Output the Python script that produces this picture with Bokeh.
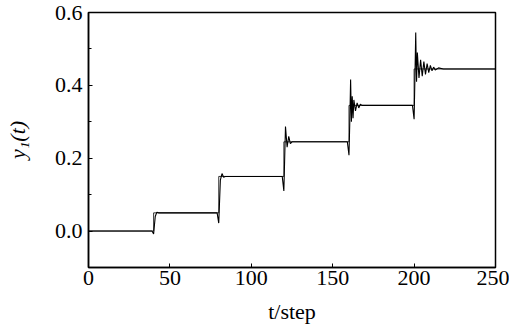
from bokeh.plotting import figure
from bokeh.embed import file_html
from bokeh.resources import INLINE
from bokeh.models import FixedTicker, CustomJSTickFormatter

# setpoint (step reference)
ref_t = [0, 40, 40, 80, 80, 120, 120, 160, 160, 200, 200, 250]
ref_y = [0.0, 0.0, 0.05, 0.05, 0.15, 0.15, 0.245, 0.245, 0.345, 0.345, 0.445, 0.445]

# output y1(t)
out_t = [0, 39, 40, 41, 42, 43, 79, 80, 81, 82, 83, 84, 119, 120, 121, 122, 123, 124, 125,
         159, 160, 160.5, 161, 161.5, 162, 162.5, 163, 164, 165, 166, 167, 168,
         199, 200, 200.5, 201, 201.5, 202, 203, 204, 205, 206, 207, 208, 209, 210, 211, 212, 213, 215, 218, 250]
out_y = [0.0, 0.0, -0.008, 0.04, 0.052, 0.05, 0.05, 0.022, 0.14, 0.158, 0.148, 0.15, 0.15, 0.11, 0.287, 0.23, 0.26, 0.24, 0.245,
         0.245, 0.208, 0.30, 0.416, 0.30, 0.37, 0.31, 0.36, 0.33, 0.352, 0.338, 0.348, 0.345,
         0.345, 0.307, 0.42, 0.545, 0.41, 0.49, 0.42, 0.47, 0.425, 0.465, 0.43, 0.46, 0.435, 0.455, 0.44, 0.45, 0.442, 0.448, 0.445, 0.445]

x_ticks = [0, 50, 100, 150, 200, 250]
y_ticks = [0.0, 0.2, 0.4, 0.6]
y_minor = [-0.1, 0.1, 0.3, 0.5]

FONT = "Liberation Serif"

p = figure(width=509, height=327, x_range=(0, 250), y_range=(-0.1, 0.6),
           output_backend="svg", toolbar_location=None,
           min_border_left=88, min_border_right=14, min_border_top=12, min_border_bottom=60)

p.line(ref_t, ref_y, line_color="black", line_width=0.8)
p.line(out_t, out_y, line_color="black", line_width=1.1)

p.grid.visible = False
p.outline_line_color = "black"
p.outline_line_width = 1.5
p.background_fill_color = "white"
p.border_fill_color = "white"

p.xaxis.ticker = FixedTicker(ticks=x_ticks)
p.yaxis.ticker = FixedTicker(ticks=y_ticks, minor_ticks=y_minor)
p.yaxis.formatter = CustomJSTickFormatter(code="return tick.toFixed(1);")

for ax in (p.xaxis[0], p.yaxis[0]):
    ax.axis_line_color = "black"
    ax.axis_line_width = 1.5
    ax.major_tick_in = 4
    ax.major_tick_out = 0
    ax.minor_tick_in = 3
    ax.minor_tick_out = 0
    ax.major_label_text_font = FONT
    ax.major_label_text_font_size = "22px"
    ax.major_label_text_color = "black"
    ax.axis_label_text_font = FONT
    ax.axis_label_text_font_size = "22px"
    ax.axis_label_text_color = "black"

p.xaxis.minor_tick_line_color = None
p.xaxis.major_label_standoff = 3
p.yaxis.major_label_standoff = 6

p.xaxis.axis_label = "t/step"
p.xaxis.axis_label_text_font_style = "normal"
p.xaxis.axis_label_standoff = 11
p.yaxis.axis_label = "y\u2081(t)"
p.yaxis.axis_label_text_font_style = "italic"
p.yaxis.axis_label_standoff = 22

open("out.html", "w").write(file_html(p, INLINE))
